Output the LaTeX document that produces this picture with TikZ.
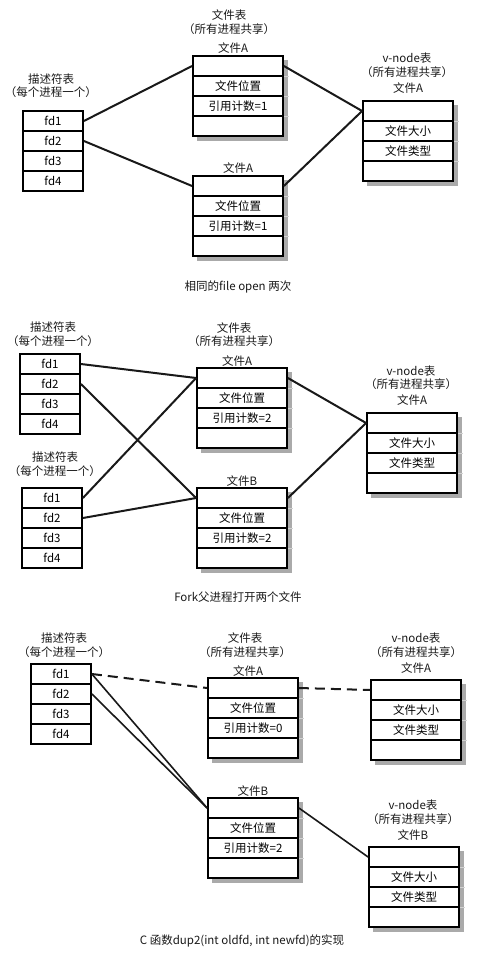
\documentclass[tikz,border=0pt]{standalone}
\usepackage{fontspec}
\setmainfont{Noto Sans CJK SC}
\usepackage{tikz}
\usetikzlibrary{positioning}
\definecolor{boxshadow}{RGB}{170,170,170}
\definecolor{tickgray}{RGB}{210,210,210}
\definecolor{ink}{RGB}{25,25,25}

\tikzset{
  cell/.style={draw=black, line width=1.8pt, fill=white, inner sep=0pt,
               minimum height=20pt},
  fdcell/.style={cell, minimum width=60pt},
  tabcell/.style={cell, minimum width=90pt},
  link/.style={line width=2pt, ink},
  oldlink/.style={link, dash pattern=on 10pt off 6pt},
  title/.style={inner sep=0pt, text=ink}
}

% descriptor table: name, left x, top y
\newcommand{\fdtable}[3]{%
  \foreach \i in {1,...,4}
    \node[fdcell] (#1-\i) at (#2+30,#3-10+20*\i) {fd\i};
}
% shared table with shadow: name, left x, top y, row 2, row 3
\newcommand{\sharedtable}[5]{%
  \fill[boxshadow] (#2+4,#3+4) rectangle (#2+95,#3+85);
  \foreach \i in {1,2,3}
    \draw[tickgray, thin] (#2+90,#3+20*\i) -- ++(6,0);
  \node[tabcell] (#1-1) at (#2+45,#3+10) {};
  \node[tabcell] (#1-2) at (#2+45,#3+30) {#4};
  \node[tabcell] (#1-3) at (#2+45,#3+50) {#5};
  \node[tabcell] (#1-4) at (#2+45,#3+70) {};
}

\begin{document}
\begin{tikzpicture}[x=1pt, y=-1pt, font=\fontsize{11.5}{13}\selectfont]
  \useasboundingbox[fill=white] (0,0) rectangle (477,958);

  % ---- same file opened twice ----
  \node[title] (a-fdt) at (51,79) {描述符表};
  \node[title] (a-fdn) at (51,92) {（每个进程一个）};
  \node[title] (a-ft) at (229,15) {文件表};
  \node[title] (a-fs) at (229,29) {（所有进程共享）};
  \node[title] (a-fa1) at (233,48) {文件A};
  \node[title] (a-fa2) at (238,168) {文件A};
  \node[title] (a-vt) at (407,58) {v-node表};
  \node[title] (a-vs) at (407,72) {（所有进程共享）};
  \node[title] (a-va) at (408,88) {文件A};

  \fdtable{a-fd}{23}{111}
  \sharedtable{a-f1}{193}{56}{文件位置}{引用计数=1}
  \sharedtable{a-f2}{193}{176}{文件位置}{引用计数=1}
  \sharedtable{a-v}{363}{101}{文件大小}{文件类型}

  \draw[link] (a-fd-1.east) -- (a-f1-1.west);
  \draw[link] (a-fd-2.east) -- (a-f2-1.west);
  \draw[link] (a-f1-1.east) -- (a-v-1.west);
  \draw[link] (a-f2-1.east) -- (a-v-1.west);

  \node[title] (a-cap) at (238,287) {相同的file open 两次};

  % ---- fork ----
  \node[title] (b-pt) at (53,327) {描述符表};
  \node[title] (b-pn) at (53,341) {（每个进程一个）};
  \node[title] (b-ct) at (55,457) {描述符表};
  \node[title] (b-cn) at (55,471) {（每个进程一个）};
  \node[title] (b-ft) at (234,328) {文件表};
  \node[title] (b-fs) at (234,341) {（所有进程共享）};
  \node[title] (b-fa) at (237,361) {文件A};
  \node[title] (b-fb) at (242,481) {文件B};
  \node[title] (b-vt) at (411,371) {v-node表};
  \node[title] (b-vs) at (411,384) {（所有进程共享）};
  \node[title] (b-va) at (412,400) {文件A};

  \fdtable{b-p}{20}{354}
  \fdtable{b-c}{22}{488}
  \sharedtable{b-a}{197}{368}{文件位置}{引用计数=2}
  \sharedtable{b-b}{197}{488}{文件位置}{引用计数=2}
  \sharedtable{b-v}{367}{413}{文件大小}{文件类型}

  \draw[link] (b-p-1.east) -- (b-a-1.west);
  \draw[link] (b-p-2.east) -- (b-b-1.west);
  \draw[link] (b-c-1.east) -- (b-a-1.west);
  \draw[link] (b-c-2.east) -- (b-b-1.west);
  \draw[link] (b-a-1.east) -- (b-v-1.west);
  \draw[link] (b-b-1.east) -- (b-v-1.west);

  \node[title] (b-cap) at (238,597) {Fork父进程打开两个文件};

  % ---- dup2 ----
  \node[title] (c-fdt) at (64,638) {描述符表};
  \node[title] (c-fdn) at (64,652) {（每个进程一个）};
  \node[title] (c-ft) at (245,638) {文件表};
  \node[title] (c-fs) at (245,652) {（所有进程共享）};
  \node[title] (c-fa) at (248,671) {文件A};
  \node[title] (c-fb) at (253,791) {文件B};
  \node[title] (c-vat) at (416,638) {v-node表};
  \node[title] (c-vas) at (416,652) {（所有进程共享）};
  \node[title] (c-vaa) at (416,668) {文件A};
  \node[title] (c-vbt) at (413,805) {v-node表};
  \node[title] (c-vbs) at (413,819) {（所有进程共享）};
  \node[title] (c-vbb) at (413,835) {文件B};

  \fdtable{c-fd}{31}{664}
  \sharedtable{c-a}{208}{678}{文件位置}{引用计数=0}
  \sharedtable{c-b}{208}{798}{文件位置}{引用计数=2}
  \sharedtable{c-va}{371}{680}{文件大小}{文件类型}
  \sharedtable{c-vb}{369}{847}{文件大小}{文件类型}

  \draw[oldlink] (c-fd-1.east) -- (c-a-1.west);
  \draw[oldlink] (c-a-1.east) -- (c-va-1.west);
  \draw[link, line width=1.6pt] (c-fd-1.east) -- (c-b-1.west);
  \draw[link, line width=1.6pt] (c-fd-2.east) -- (c-b-1.west);
  \draw[link, line width=1.6pt] (c-b-1.east) -- (c-vb-1.west);

  \node[title] (c-cap) at (242,941) {C 函数dup2(int oldfd, int newfd)的实现};
\end{tikzpicture}
\end{document}
